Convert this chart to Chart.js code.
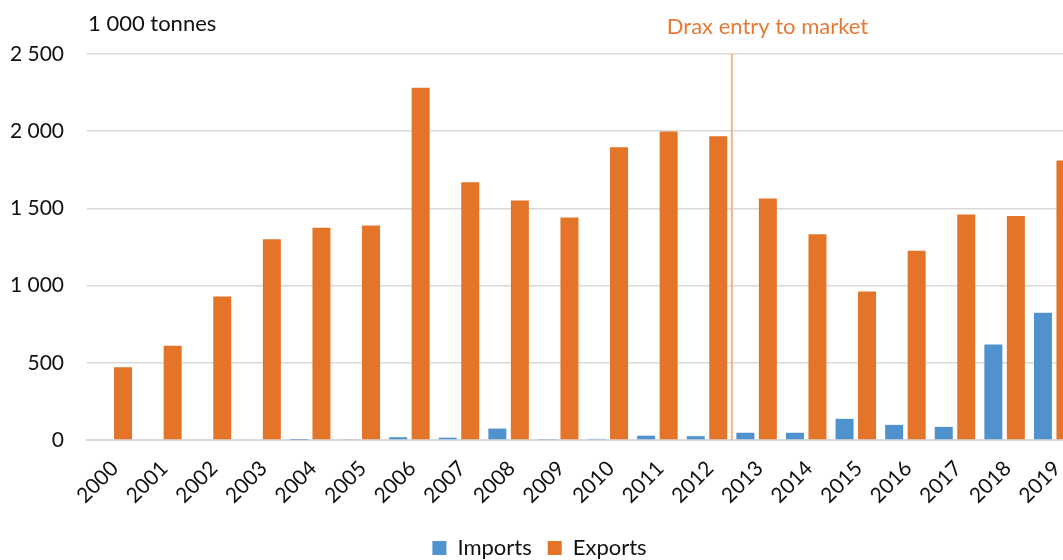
<!DOCTYPE html>
<html>
<head>
<meta charset="utf-8">
<script src="https://cdn.jsdelivr.net/npm/chart.js@4"></script>
<style>
  html, body { margin: 0; padding: 0; background: #fff; overflow: hidden; }
  #wrap { width: 1085px; height: 569px; }
</style>
</head>
<body>
<div id="wrap"><canvas id="pellets" width="1085" height="569"></canvas></div>
<script>
// wood pellet trade, 1 000 tonnes per year
const years = ['2000', '2001', '2002', '2003', '2004', '2005', '2006', '2007', '2008', '2009',
               '2010', '2011', '2012', '2013', '2014', '2015', '2016', '2017', '2018', '2019'];
const importVolumes = [0, 0, 0, 0, 1, 4, 18, 15, 74, 3, 7, 28, 25, 47, 47, 137, 98, 85, 618, 824];
const exportVolumes = [471, 610, 930, 1300, 1375, 1390, 2281, 1670, 1551, 1441,
                       1896, 1998, 1968, 1564, 1333, 962, 1225, 1460, 1450, 1810];
const yTicks = [0, 500, 1000, 1500, 2000, 2500];
const unitLabel = '1 000 tonnes';
const eventLabel = 'Drax entry to market';
const eventAfterYear = '2012';

const FONT = 'Lato, "Open Sans", sans-serif';

function spaced(v) {
    return String(v).replace(/\B(?=(\d{3})+(?!\d))/g, ' ');
}

// vertical marker between two years, plus the unit caption over the y axis
const eventMarker = {
    id: 'eventMarker',
    afterDatasetsDraw(chart) {
        const { ctx, chartArea, scales: { x } } = chart;
        const i = years.indexOf(eventAfterYear);
        const px = (x.getPixelForValue(i) + x.getPixelForValue(i + 1)) / 2;

        ctx.save();
        ctx.strokeStyle = '#F4B183';
        ctx.lineWidth = 2;
        ctx.beginPath();
        ctx.moveTo(px, chartArea.top);
        ctx.lineTo(px, chartArea.bottom);
        ctx.stroke();

        ctx.font = '22px ' + FONT;
        ctx.textBaseline = 'middle';
        ctx.textAlign = 'left';
        ctx.fillStyle = '#E57A34';
        ctx.fillText(eventLabel, px - 65, 27);

        ctx.fillStyle = '#111';
        ctx.fillText(unitLabel, chartArea.left + 1, 24);
        ctx.restore();
    }
};

new Chart(document.getElementById('pellets'), {
    type: 'bar',
    data: {
        labels: years,
        datasets: [
            {
                label: 'Imports',
                data: importVolumes,
                backgroundColor: '#5092CD',
                categoryPercentage: 0.907,
                barPercentage: 0.8
            },
            {
                label: 'Exports',
                data: exportVolumes,
                backgroundColor: '#E37428',
                categoryPercentage: 0.907,
                barPercentage: 0.8
            }
        ]
    },
    options: {
        responsive: false,
        animation: false,
        layout: { padding: { top: 54, right: 6, left: 0, bottom: 0 } },
        plugins: {
            tooltip: { enabled: false },
            legend: {
                position: 'bottom',
                labels: {
                    color: '#111',
                    font: { family: FONT, size: 22 },
                    boxWidth: 14,
                    boxHeight: 14,
                    padding: 16
                }
            }
        },
        scales: {
            x: {
                grid: { display: false },
                border: { color: '#D9D9D9', width: 2 },
                ticks: {
                    color: '#111',
                    font: { family: FONT, size: 21 },
                    minRotation: 45,
                    maxRotation: 45,
                    padding: 8,
                    labelOffset: 3
                },
                afterFit(scale) { scale.height = 81; }
            },
            y: {
                min: yTicks[0],
                max: yTicks[yTicks.length - 1],
                border: { display: false },
                grid: { color: '#D9D9D9', lineWidth: 1.5, drawTicks: false },
                ticks: {
                    stepSize: yTicks[1] - yTicks[0],
                    color: '#111',
                    font: { family: FONT, size: 21 },
                    padding: 23,
                    callback: v => spaced(v)
                },
                afterFit(scale) { scale.width = 87; }
            }
        }
    },
    plugins: [eventMarker]
});
</script>
</body>
</html>
